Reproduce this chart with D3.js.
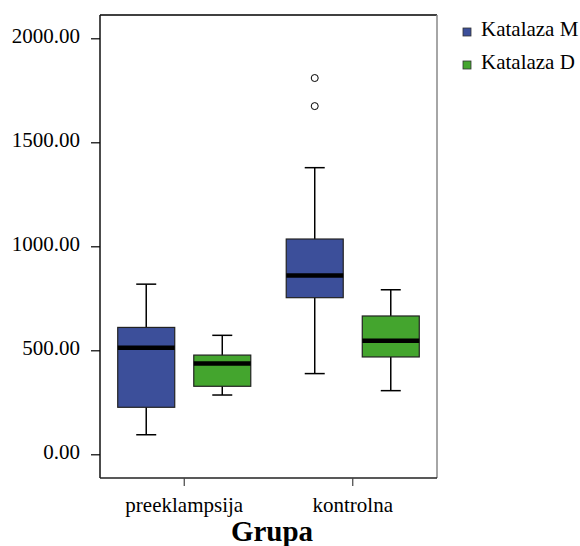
<!DOCTYPE html>
<html>
<head>
<meta charset="utf-8">
<script src="https://cdn.jsdelivr.net/npm/d3@7"></script>
<style>
  body { margin: 0; background: #fff; }
  svg { display: block; }
  svg text { font-family: 'Liberation Serif', serif; }
</style>
</head>
<body>
<svg id="chart" width="580" height="546"></svg>
<script>
// data (box plot stats per group)
const categories = ['preeklampsija', 'kontrolna'];
const series = ['Katalaza M', 'Katalaza D'];
const yTicks = [0, 500, 1000, 1500, 2000];

const mLow = [94, 388];
const mQ1 = [226, 753];
const mMedian = [512, 860];
const mQ3 = [610, 1035];
const mHigh = [818, 1378];
const mOutliers = [[], [1674, 1809]];

const dLow = [285, 306];
const dQ1 = [327, 468];
const dMedian = [437, 546];
const dQ3 = [477, 665];
const dHigh = [572, 791];
const dOutliers = [[], []];

const FRAME = { left: 100, right: 437, top: 15, bottom: 478 };
const BOX_W = 57;
const CAP_W = 20;
const FONT = "'Liberation Serif', serif";
const colors = { 'Katalaza M': '#3c4f9a', 'Katalaza D': '#44a52e' };

const stats = [];
categories.forEach((c, i) => {
    stats.push({ cat: c, ser: series[0], low: mLow[i], q1: mQ1[i], med: mMedian[i], q3: mQ3[i], high: mHigh[i], out: mOutliers[i] });
    stats.push({ cat: c, ser: series[1], low: dLow[i], q1: dQ1[i], med: dMedian[i], q3: dQ3[i], high: dHigh[i], out: dOutliers[i] });
});

const svg = d3.select('#chart');

const x = d3.scaleBand().domain(categories).range([FRAME.left, FRAME.right]);
const xSub = d3.scalePoint().domain(series).range([0, x.bandwidth()]).padding(0.608);
const y = d3.scaleLinear().domain([0, 2000]).range([454.3, 38.3]);

// frame
svg.append('line').attr('x1', FRAME.left).attr('x2', FRAME.right).attr('y1', FRAME.top).attr('y2', FRAME.top)
    .attr('stroke', '#000').attr('stroke-width', 1.5);
svg.append('line').attr('x1', FRAME.left).attr('x2', FRAME.left).attr('y1', FRAME.top).attr('y2', FRAME.bottom)
    .attr('stroke', '#111').attr('stroke-width', 1.5);
svg.append('line').attr('x1', FRAME.right).attr('x2', FRAME.right).attr('y1', FRAME.top).attr('y2', FRAME.bottom)
    .attr('stroke', '#888').attr('stroke-width', 1.5);
svg.append('line').attr('x1', FRAME.left).attr('x2', FRAME.right).attr('y1', FRAME.bottom).attr('y2', FRAME.bottom)
    .attr('stroke', '#222').attr('stroke-width', 1.5);

// y axis
const yAxis = svg.append('g')
    .attr('transform', `translate(${FRAME.left},0)`)
    .call(d3.axisLeft(y).tickValues(yTicks).tickSize(9).tickPadding(11).tickFormat(d3.format('.2f')));
yAxis.attr('font-family', null);
yAxis.select('.domain').remove();
yAxis.selectAll('.tick line').attr('stroke', '#000').attr('stroke-width', 1.2);
yAxis.selectAll('.tick text')
    .style('font-family', FONT).style('font-size', '21px').attr('fill', '#000')
    .attr('dy', '0.22em');

// x axis
const xAxis = svg.append('g')
    .attr('transform', `translate(0,${FRAME.bottom})`)
    .call(d3.axisBottom(x).tickSize(8).tickPadding(11));
xAxis.attr('font-family', null);
xAxis.select('.domain').remove();
xAxis.selectAll('.tick line').attr('stroke', '#444').attr('stroke-width', 1.2);
xAxis.selectAll('.tick text')
    .style('font-family', FONT).style('font-size', '21px').attr('fill', '#000');

svg.append('text')
    .attr('x', 272)
    .attr('y', 541)
    .attr('text-anchor', 'middle')
    .style('font-family', FONT)
    .style('font-size', '29px')
    .style('font-weight', 'bold')
    .text('Grupa');

// boxes
const groups = svg.append('g').selectAll('g.box')
    .data(stats)
    .enter()
    .append('g')
    .attr('class', 'box')
    .attr('transform', d => `translate(${x(d.cat) + xSub(d.ser)},0)`);

groups.append('line')
    .attr('x1', 0).attr('x2', 0)
    .attr('y1', d => y(d.high)).attr('y2', d => y(d.low))
    .attr('stroke', '#000').attr('stroke-width', 1.5);

groups.append('line')
    .attr('x1', -CAP_W / 2).attr('x2', CAP_W / 2)
    .attr('y1', d => y(d.high)).attr('y2', d => y(d.high))
    .attr('stroke', '#000').attr('stroke-width', 1.5);

groups.append('line')
    .attr('x1', -CAP_W / 2).attr('x2', CAP_W / 2)
    .attr('y1', d => y(d.low)).attr('y2', d => y(d.low))
    .attr('stroke', '#000').attr('stroke-width', 1.5);

groups.append('rect')
    .attr('x', -BOX_W / 2)
    .attr('width', BOX_W)
    .attr('y', d => y(d.q3))
    .attr('height', d => y(d.q1) - y(d.q3))
    .attr('fill', d => colors[d.ser])
    .attr('stroke', '#222')
    .attr('stroke-width', 1.2);

groups.append('line')
    .attr('x1', -BOX_W / 2).attr('x2', BOX_W / 2)
    .attr('y1', d => y(d.med)).attr('y2', d => y(d.med))
    .attr('stroke', '#000').attr('stroke-width', 4.5);

groups.selectAll('circle')
    .data(d => d.out)
    .enter()
    .append('circle')
    .attr('cx', 0)
    .attr('cy', v => y(v))
    .attr('r', 3.5)
    .attr('fill', '#fff')
    .attr('stroke', '#000')
    .attr('stroke-width', 1);

// legend
const legend = svg.append('g').selectAll('g')
    .data(series)
    .enter()
    .append('g')
    .attr('transform', (d, i) => `translate(463,${28 + i * 33})`);

legend.append('rect')
    .attr('width', 8).attr('height', 8)
    .attr('fill', d => colors[d])
    .attr('stroke', '#333')
    .attr('stroke-width', 0.8);

legend.append('text')
    .attr('x', 18)
    .attr('y', 8)
    .style('font-family', FONT)
    .style('font-size', '21px')
    .text(d => d);
</script>
</body>
</html>
